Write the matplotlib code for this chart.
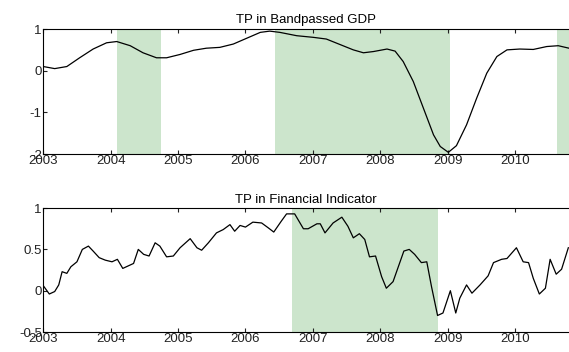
import matplotlib.pyplot as plt

# bandpassed GDP turning point (top panel)
gdp_t = [2003.0, 2003.17, 2003.35, 2003.54, 2003.74, 2003.94, 2004.09, 2004.29, 2004.48,
         2004.68, 2004.83, 2005.03, 2005.23, 2005.42, 2005.62, 2005.82, 2006.02, 2006.22,
         2006.36, 2006.51, 2006.76, 2007.01, 2007.2, 2007.4, 2007.6, 2007.75, 2007.9,
         2008.1, 2008.22, 2008.34, 2008.49, 2008.64, 2008.79, 2008.89, 2009.01, 2009.13,
         2009.28, 2009.43, 2009.58, 2009.73, 2009.88, 2010.07, 2010.27, 2010.47, 2010.64,
         2010.8]
gdp_v = [0.10, 0.05, 0.10, 0.31, 0.52, 0.67, 0.70, 0.60, 0.43,
         0.31, 0.31, 0.39, 0.49, 0.54, 0.56, 0.64, 0.78, 0.92,
         0.95, 0.92, 0.84, 0.80, 0.76, 0.63, 0.50, 0.43, 0.46,
         0.52, 0.47, 0.22, -0.26, -0.90, -1.54, -1.82, -1.96, -1.80,
         -1.30, -0.66, -0.06, 0.34, 0.50, 0.52, 0.51, 0.58, 0.60,
         0.54]

# financial indicator turning point (bottom panel)
fin_t = [2003.01, 2003.09, 2003.17, 2003.23, 2003.28, 2003.35, 2003.41, 2003.5, 2003.58,
         2003.67, 2003.74, 2003.83, 2003.92, 2004.02, 2004.1, 2004.18, 2004.26, 2004.34,
         2004.41, 2004.49, 2004.57, 2004.66, 2004.73, 2004.83, 2004.93, 2005.03, 2005.18,
         2005.28, 2005.35, 2005.45, 2005.57, 2005.67, 2005.77, 2005.84, 2005.92, 2006.0,
         2006.11, 2006.24, 2006.34, 2006.42, 2006.53, 2006.61, 2006.73, 2006.86, 2006.93,
         2007.06, 2007.11, 2007.18, 2007.3, 2007.43, 2007.52, 2007.6, 2007.69, 2007.77,
         2007.84, 2007.93, 2008.02, 2008.09, 2008.19, 2008.35, 2008.43, 2008.51, 2008.61,
         2008.69, 2008.76, 2008.85, 2008.93, 2009.04, 2009.12, 2009.18, 2009.28, 2009.36,
         2009.48, 2009.6, 2009.68, 2009.8, 2009.88, 2010.02, 2010.12, 2010.2, 2010.27,
         2010.36, 2010.45, 2010.52, 2010.61, 2010.69, 2010.79]
fin_v = [0.05, -0.04, -0.01, 0.07, 0.23, 0.21, 0.29, 0.35, 0.50,
         0.54, 0.48, 0.40, 0.37, 0.35, 0.38, 0.27, 0.30, 0.33,
         0.50, 0.44, 0.42, 0.58, 0.54, 0.41, 0.42, 0.52, 0.63,
         0.52, 0.49, 0.58, 0.70, 0.74, 0.80, 0.72, 0.79, 0.77,
         0.83, 0.82, 0.76, 0.71, 0.84, 0.93, 0.93, 0.75, 0.75,
         0.81, 0.81, 0.70, 0.82, 0.89, 0.78, 0.64, 0.69, 0.62,
         0.41, 0.42, 0.17, 0.03, 0.11, 0.48, 0.50, 0.44, 0.34,
         0.35, 0.05, -0.30, -0.27, 0.0, -0.27, -0.09, 0.07, -0.03,
         0.07, 0.18, 0.34, 0.38, 0.39, 0.52, 0.35, 0.34, 0.15,
         -0.04, 0.03, 0.38, 0.20, 0.26, 0.52]

gdp_shade = [(2004.09, 2004.75), (2006.44, 2009.03), (2010.62, 2011.0)]
fin_shade = [(2006.69, 2008.85)]

years = list(range(2003, 2011))
gdp_yticks = [-2, -1, 0, 1]
fin_yticks = [-0.5, 0, 0.5, 1]

plt.rcParams['font.family'] = ['Liberation Sans', 'DejaVu Sans']
plt.rcParams['font.size'] = 9.5

fig = plt.figure(figsize=(5.69, 3.52), dpi=100)
shade = '#cce5cc'


def panel(ax, t, v, spans, yticks, ylim, title):
    for a, b in spans:
        ax.axvspan(a, b, color=shade, lw=0, zorder=0)
    ax.plot(t, v, color='black', lw=0.9)
    ax.set_xlim(2003, 2010.8)
    ax.set_ylim(*ylim)
    ax.set_xticks(years)
    ax.set_yticks(yticks)
    ax.set_yticklabels([f'{y:g}' for y in yticks])
    ax.tick_params(direction='in', length=3, top=True, pad=1, colors='#222222')
    ax.spines['right'].set_visible(False)
    for s in ['top', 'bottom', 'left']:
        ax.spines[s].set_linewidth(0.8)
    ax.set_title(title, fontsize=9.5, pad=4)


ax1 = fig.add_axes([0.076, 0.5625, 0.924, 0.355])
panel(ax1, gdp_t, gdp_v, gdp_shade, gdp_yticks, (-2, 1), 'TP in Bandpassed GDP')
ax2 = fig.add_axes([0.076, 0.0568, 0.924, 0.352])
panel(ax2, fin_t, fin_v, fin_shade, fin_yticks, (-0.5, 1), 'TP in Financial Indicator')

fig.savefig('out.png', dpi=100)
